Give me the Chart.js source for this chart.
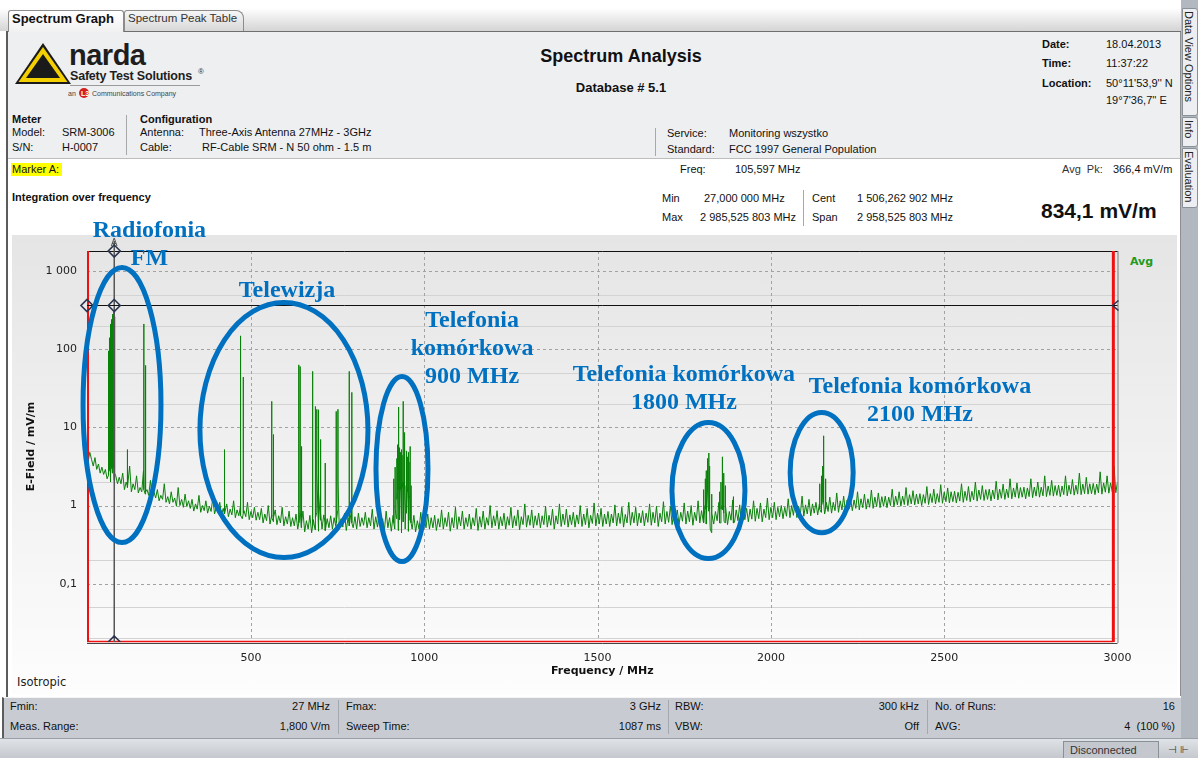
<!DOCTYPE html>
<html>
<head>
<meta charset="utf-8">
<script src="https://cdn.jsdelivr.net/npm/chart.js@4.4.1/dist/chart.umd.min.js"></script>
<style>
html,body{margin:0;padding:0;}
body{width:1198px;height:758px;position:relative;overflow:hidden;background:#fff;
  font-family:"Liberation Sans",Arial,sans-serif;font-size:11px;color:#111;}
.t{position:absolute;white-space:nowrap;line-height:1;}
.b{font-weight:bold;}
.r{text-align:right;}
.box{position:absolute;}
</style>
</head>
<body>

<!-- tab strip -->
<div class="box" style="left:0;top:8px;width:1181px;height:23px;background:linear-gradient(#ffffff,#d4d4d4);"></div>
<div class="box" style="left:8px;top:31px;width:1173px;height:1px;background:#6f6f6f;"></div>
<div class="box" style="left:8px;top:10px;width:114px;height:22px;background:linear-gradient(#ffffff,#f0f0f0);border:1px solid #8c8c8c;border-bottom:none;border-radius:3px 3px 0 0;"></div>
<div class="box" style="left:124px;top:10px;width:118px;height:20px;background:linear-gradient(#f6f6f6,#d8d8d8);border:1px solid #8c8c8c;border-bottom:none;border-radius:3px 8px 0 0;"></div>
<div class="t b" style="left:12px;top:12px;font-size:13px;">Spectrum Graph</div>
<div class="t" style="left:128px;top:13px;font-size:11.5px;color:#333;">Spectrum Peak Table</div>

<!-- window frame -->
<div class="box" style="left:6px;top:31px;width:2px;height:709px;background:#5c5c5c;"></div>

<!-- header panel -->
<div class="box" style="left:8px;top:32px;width:1172px;height:126px;background:#eeeff1;border-right:1px solid #8e8e8e;"></div>

<!-- logo -->
<svg class="box" style="left:14px;top:42px;" width="58" height="44" viewBox="0 0 58 44">
  <polygon points="1,42 29,1 57,42" fill="#1a1a1a"/>
  <polygon points="4.5,40 29,5 53.5,40" fill="#f5d000"/>
  <polygon points="12,36 29,12 46,36" fill="#1a1a1a"/>
</svg>
<div class="t b" style="left:69px;top:41px;font-size:29px;color:#1e1e1e;letter-spacing:-0.5px;">narda</div>
<div class="t b" style="left:70px;top:70px;font-size:12.5px;color:#1e1e1e;letter-spacing:-0.2px;">Safety Test Solutions</div>
<div class="t" style="left:198px;top:68px;font-size:8px;color:#333;">®</div>
<div class="box" style="left:70px;top:85px;width:130px;height:1px;background:#9a9a9a;"></div>
<div class="t" style="left:68px;top:90px;font-size:7px;color:#444;">an</div>
<div class="box" style="left:79px;top:88px;width:10px;height:10px;border-radius:5px;background:#d41f1f;"></div>
<div class="t b" style="left:81px;top:90px;font-size:7px;color:#fff;">L3</div>
<div class="t" style="left:92px;top:90px;font-size:7px;color:#444;">Communications Company</div>

<div class="t b" style="left:621px;top:47px;font-size:18px;transform:translateX(-50%);">Spectrum Analysis</div>
<div class="t b" style="left:621px;top:81px;font-size:13px;transform:translateX(-50%);">Database # 5.1</div>

<div class="t b" style="left:1042px;top:39px;">Date:</div>
<div class="t b" style="left:1042px;top:58px;">Time:</div>
<div class="t b" style="left:1042px;top:78px;">Location:</div>
<div class="t" style="left:1106px;top:39px;">18.04.2013</div>
<div class="t" style="left:1106px;top:58px;">11:37:22</div>
<div class="t" style="left:1106px;top:78px;">50°11'53,9'' N</div>
<div class="t" style="left:1106px;top:95px;">19°7'36,7'' E</div>

<div class="t b" style="left:12px;top:114px;">Meter</div>
<div class="t" style="left:12px;top:127px;">Model:</div>
<div class="t" style="left:62px;top:127px;">SRM-3006</div>
<div class="t" style="left:12px;top:142px;">S/N:</div>
<div class="t" style="left:62px;top:142px;">H-0007</div>
<div class="box" style="left:126px;top:115px;width:1px;height:40px;background:#a8a8a8;"></div>
<div class="t b" style="left:140px;top:114px;">Configuration</div>
<div class="t" style="left:140px;top:127px;">Antenna:</div>
<div class="t" style="left:199px;top:127px;">Three-Axis Antenna 27MHz - 3GHz</div>
<div class="t" style="left:140px;top:142px;">Cable:</div>
<div class="t" style="left:202px;top:142px;">RF-Cable SRM - N 50 ohm - 1.5 m</div>
<div class="box" style="left:655px;top:128px;width:1px;height:28px;background:#a8a8a8;"></div>
<div class="t" style="left:667px;top:128px;">Service:</div>
<div class="t" style="left:729px;top:128px;">Monitoring wszystko</div>
<div class="t" style="left:667px;top:144px;">Standard:</div>
<div class="t" style="left:729px;top:144px;">FCC 1997 General Population</div>

<!-- marker row -->
<div class="box" style="left:8px;top:158px;width:1172px;height:26px;background:#fff;border-top:1px solid #bdbdbd;border-bottom:1px solid #d6d6d6;border-right:1px solid #8e8e8e;"></div>
<div class="box" style="left:11px;top:163px;width:51px;height:13px;background:#ffff00;"></div>
<div class="t" style="left:12px;top:164px;">Marker A:</div>
<div class="t" style="left:680px;top:164px;">Freq:</div>
<div class="t" style="left:735px;top:164px;">105,597 MHz</div>
<div class="t" style="left:1062px;top:164px;color:#333;">Avg&nbsp; Pk:</div>
<div class="t" style="left:1113px;top:164px;">366,4 mV/m</div>

<!-- integration row -->
<div class="box" style="left:8px;top:185px;width:1172px;height:48px;background:#fff;border-right:1px solid #8e8e8e;"></div>
<div class="t b" style="left:12px;top:192px;">Integration over frequency</div>
<div class="t" style="left:662px;top:193px;">Min</div>
<div class="t" style="left:704px;top:193px;">27,000 000 MHz</div>
<div class="t" style="left:662px;top:212px;">Max</div>
<div class="t" style="left:700px;top:212px;">2 985,525 803 MHz</div>
<div class="box" style="left:803px;top:190px;width:1px;height:36px;background:#a8a8a8;"></div>
<div class="t" style="left:812px;top:193px;">Cent</div>
<div class="t" style="left:857px;top:193px;">1 506,262 902 MHz</div>
<div class="t" style="left:812px;top:212px;">Span</div>
<div class="t" style="left:857px;top:212px;">2 958,525 803 MHz</div>
<div class="t b" style="left:1041px;top:200px;font-size:21px;">834,1 mV/m</div>

<!-- chart panel -->
<div class="box" style="left:8px;top:233px;width:1172px;height:463px;background:#fff;border-right:1px solid #8e8e8e;"></div>
<div class="box" style="left:12px;top:235px;width:1165px;height:459px;background:linear-gradient(#e5e5e5,#fdfdfd);"></div>
<div class="t" style="left:17px;top:677px;font-family:'DejaVu Sans';font-size:11.5px;color:#222;">Isotropic</div>
<div class="t b" style="left:1130px;top:256px;font-family:'DejaVu Sans';font-size:11px;color:#1f9a1f;">Avg</div>

<canvas id="spectrum" class="box" style="left:0;top:200px;" width="1180" height="495"></canvas>

<!-- bottom info bar -->
<div class="box" style="left:2px;top:697px;width:1178px;height:40px;background:#c8ccd2;border-top:1px solid #f4f4f4;border-left:2px solid #5c5c5c;"></div>
<div class="t" style="left:10px;top:701px;">Fmin:</div>
<div class="t r" style="left:230px;width:100px;top:701px;">27 MHz</div>
<div class="t" style="left:10px;top:721px;">Meas. Range:</div>
<div class="t r" style="left:230px;width:100px;top:721px;">1,800 V/m</div>
<div class="box" style="left:338px;top:700px;width:1px;height:34px;background:#a4a9b0;"></div>
<div class="t" style="left:346px;top:701px;">Fmax:</div>
<div class="t r" style="left:561px;width:100px;top:701px;">3 GHz</div>
<div class="t" style="left:346px;top:721px;">Sweep Time:</div>
<div class="t r" style="left:561px;width:100px;top:721px;">1087 ms</div>
<div class="box" style="left:668px;top:700px;width:1px;height:34px;background:#a4a9b0;"></div>
<div class="t" style="left:675px;top:701px;">RBW:</div>
<div class="t r" style="left:819px;width:100px;top:701px;">300 kHz</div>
<div class="t" style="left:675px;top:721px;">VBW:</div>
<div class="t r" style="left:819px;width:100px;top:721px;">Off</div>
<div class="box" style="left:927px;top:700px;width:1px;height:34px;background:#a4a9b0;"></div>
<div class="t" style="left:935px;top:701px;">No. of Runs:</div>
<div class="t r" style="left:1075px;width:100px;top:701px;">16</div>
<div class="t" style="left:935px;top:721px;">AVG:</div>
<div class="t r" style="left:1075px;width:100px;top:721px;">4&nbsp; (100 %)</div>

<!-- status bar -->
<div class="box" style="left:0;top:738px;width:1198px;height:20px;background:linear-gradient(#dfe2e6,#c3c7cd);border-top:1px solid #9aa0a8;"></div>
<div class="box" style="left:1063px;top:741px;width:94px;height:17px;background:#c4c8ce;border:1px solid #8a9098;"></div>
<div class="t" style="left:1070px;top:745px;font-size:11px;color:#333;">Disconnected</div>
<div class="t" style="left:1168px;top:745px;font-size:10px;color:#333;">⊣ ⊩</div>

<!-- side tabs -->
<div class="box" style="left:1181px;top:0;width:17px;height:738px;background:#b2b8c0;"></div>
<div class="box" style="left:1182px;top:8px;width:14px;height:106px;background:#eceef1;border:1px solid #8a9098;border-radius:0 3px 3px 0;"></div>
<div class="box" style="left:1182px;top:117px;width:14px;height:28px;background:#eceef1;border:1px solid #8a9098;border-radius:0 3px 3px 0;"></div>
<div class="box" style="left:1182px;top:148px;width:14px;height:58px;background:#eceef1;border:1px solid #8a9098;border-radius:0 3px 3px 0;"></div>
<div class="t" style="left:1183px;top:11px;font-size:11px;writing-mode:vertical-rl;color:#222;">Data View Options</div>
<div class="t" style="left:1183px;top:120px;font-size:11px;writing-mode:vertical-rl;color:#222;">Info</div>
<div class="t" style="left:1183px;top:151px;font-size:11px;writing-mode:vertical-rl;color:#222;">Evaluation</div>

<script>
// Axis settings
const freqMinMHz = 27;
const freqMaxMHz = 3000;
const levelMin = 0.018;
const levelMax = 1800;
const xTickValues = [500, 1000, 1500, 2000, 2500, 3000];
const xGridValues = [500, 1000, 1500, 2000, 2500];
const yTickValues = [0.1, 1, 10, 100, 1000];
const yTickLabels = ['0,1', '1', '10', '100', '1 000'];
const yMinorValues = [0.02, 0.05, 0.2, 0.5, 2, 5, 20, 50, 200, 500];

// Sweep limits and marker A
const sweepStartMHz = 27;
const sweepStopMHz = 2988;
const markerFreqMHz = 105.597;
const markerLevel = 366.4;

// Averaged noise floor (mV/m): one reading every 5 MHz from 25 MHz, 20 readings (100 MHz) per row
const floorStartMHz = 25;
const floorStepMHz = 5;
const floorLevels = [
  4.5, 3.6, 4.8, 3.9, 3.2, 4.1, 2.9, 3.4, 2.6, 3.1, 2.5, 2.9, 2.2, 2.7, 2.0, 2.6, 2.1, 2.4, 1.9, 2.3,
  1.9, 2.6, 1.6, 2.0, 1.7, 3.2, 1.5, 1.9, 1.6, 2.4, 1.45, 1.7, 1.5, 2.8, 1.4, 1.6, 1.35, 2.1, 1.3, 1.5,
  1.25, 1.6, 1.15, 1.35, 1.2, 1.9, 1.1, 1.3, 1.05, 1.5, 1.1, 1.25, 0.98, 1.7, 1.0, 1.2, 0.95, 1.4, 0.97, 1.15,
  0.92, 1.2, 0.85, 1.05, 0.9, 1.35, 0.82, 1.0, 0.86, 1.15, 0.8, 0.98, 0.84, 1.25, 0.78, 0.95, 0.82, 1.1, 0.76, 0.92,
  0.78, 1.05, 0.72, 0.9, 0.76, 1.15, 0.7, 0.88, 0.74, 1.0, 0.68, 0.86, 0.72, 1.1, 0.66, 0.84, 0.7, 0.95, 0.65, 0.82,
  0.66, 0.92, 0.6, 0.78, 0.64, 1.0, 0.58, 0.76, 0.62, 0.88, 0.57, 0.74, 0.6, 0.95, 0.55, 0.72, 0.58, 0.85, 0.54, 0.7,
  0.55, 0.78, 0.5, 0.68, 0.52, 0.85, 0.46, 0.64, 0.5, 0.75, 0.45, 0.66, 0.49, 0.82, 0.47, 0.65, 0.5, 0.76, 0.48, 0.68,
  0.52, 0.74, 0.5, 0.7, 0.54, 0.85, 0.5, 0.68, 0.53, 0.8, 0.48, 0.7, 0.55, 0.9, 0.52, 0.72, 0.5, 0.8, 0.54, 0.7,
  0.56, 0.82, 0.52, 0.7, 0.55, 0.9, 0.5, 0.72, 0.53, 0.8, 0.5, 0.68, 0.48, 0.85, 0.52, 0.7, 0.47, 0.75, 0.5, 0.68,
  0.48, 0.66, 0.45, 0.62, 0.5, 0.8, 0.47, 0.65, 0.5, 0.75, 0.46, 0.64, 0.5, 0.82, 0.48, 0.68, 0.52, 0.78, 0.5, 0.7,
  0.52, 0.75, 0.48, 0.68, 0.53, 0.88, 0.5, 0.7, 0.54, 0.82, 0.47, 0.7, 0.52, 0.95, 0.5, 0.72, 0.55, 0.85, 0.5, 0.7,
  0.54, 0.78, 0.5, 0.7, 0.55, 0.92, 0.48, 0.72, 0.53, 0.85, 0.5, 0.7, 0.56, 1.0, 0.52, 0.74, 0.55, 0.86, 0.5, 0.72,
  0.55, 0.8, 0.5, 0.72, 0.56, 0.95, 0.52, 0.74, 0.55, 0.88, 0.49, 0.72, 0.57, 1.05, 0.53, 0.75, 0.56, 0.88, 0.52, 0.74,
  0.56, 0.8, 0.52, 0.74, 0.57, 0.98, 0.53, 0.75, 0.56, 0.9, 0.5, 0.74, 0.58, 1.05, 0.54, 0.78, 0.57, 0.9, 0.53, 0.76,
  0.57, 0.82, 0.53, 0.76, 0.58, 1.0, 0.54, 0.78, 0.57, 0.92, 0.52, 0.75, 0.59, 1.08, 0.55, 0.8, 0.58, 0.92, 0.54, 0.78,
  0.58, 0.84, 0.54, 0.78, 0.6, 1.02, 0.55, 0.8, 0.59, 0.95, 0.53, 0.77, 0.6, 1.1, 0.56, 0.82, 0.6, 0.95, 0.55, 0.8,
  0.6, 0.86, 0.55, 0.8, 0.61, 1.05, 0.56, 0.82, 0.6, 0.98, 0.54, 0.8, 0.62, 1.12, 0.58, 0.84, 0.61, 0.98, 0.57, 0.82,
  0.62, 0.88, 0.57, 0.82, 0.63, 1.08, 0.58, 0.85, 0.62, 1.0, 0.56, 0.82, 0.64, 1.15, 0.6, 0.86, 0.62, 1.0, 0.58, 0.85,
  0.5, 0.8, 0.58, 0.84, 0.64, 1.1, 0.6, 0.88, 0.63, 1.02, 0.57, 0.84, 0.65, 1.18, 0.61, 0.88, 0.64, 1.02, 0.6, 0.88,
  0.66, 0.92, 0.62, 0.9, 0.67, 1.15, 0.63, 0.92, 0.68, 1.08, 0.62, 0.9, 0.7, 1.25, 0.66, 0.95, 0.7, 1.1, 0.66, 0.95,
  0.72, 1.0, 0.68, 0.95, 0.73, 1.22, 0.7, 1.0, 0.75, 1.15, 0.7, 0.98, 0.77, 1.32, 0.73, 1.02, 0.78, 1.2, 0.74, 1.05,
  0.8, 1.1, 0.76, 1.05, 0.82, 1.35, 0.78, 1.1, 0.84, 1.28, 0.8, 1.1, 0.86, 1.45, 0.82, 1.15, 0.88, 1.32, 0.84, 1.18,
  0.9, 1.22, 0.86, 1.18, 0.92, 1.5, 0.88, 1.22, 0.94, 1.4, 0.9, 1.22, 0.95, 1.58, 0.92, 1.28, 0.97, 1.45, 0.94, 1.3,
  0.98, 1.32, 0.94, 1.28, 1.0, 1.62, 0.96, 1.32, 1.02, 1.5, 0.98, 1.32, 1.03, 1.7, 1.0, 1.38, 1.05, 1.55, 1.02, 1.4,
  1.05, 1.42, 1.0, 1.38, 1.07, 1.75, 1.03, 1.42, 1.09, 1.62, 1.05, 1.42, 1.1, 1.85, 1.07, 1.48, 1.12, 1.68, 1.08, 1.5,
  1.12, 1.52, 1.08, 1.48, 1.14, 1.9, 1.1, 1.52, 1.16, 1.75, 1.12, 1.52, 1.18, 2.0, 1.14, 1.58, 1.2, 1.8, 1.16, 1.6,
  1.2, 1.62, 1.15, 1.58, 1.22, 2.05, 1.18, 1.62, 1.24, 1.88, 1.2, 1.62, 1.26, 2.2, 1.22, 1.68, 1.28, 1.95, 1.24, 1.7,
  1.28, 1.72, 1.22, 1.68, 1.3, 2.2, 1.26, 1.72, 1.32, 2.0, 1.28, 1.72, 1.33, 2.4, 1.3, 1.78, 1.35, 2.1, 1.32, 1.8,
  1.35, 1.82, 1.3, 1.78, 1.38, 2.4, 1.33, 1.82, 1.4, 2.15, 1.36, 1.82, 1.4, 2.6, 1.38, 1.88, 1.42, 2.3, 1.4, 1.9,
  1.42, 1.92, 1.38, 1.88, 1.45, 2.7, 1.4, 1.95, 1.48, 2.4, 1.44, 1.95, 1.5, 3.2, 1.46, 2.0, 1.5, 2.5, 1.48, 2.0
];

// Carriers: [frequency MHz, level at foot mV/m, peak level mV/m]
const fmPeaks = [
  [88, 2.4, 30], [89.5, 2.6, 95], [91, 2.8, 140], [92.5, 3.0, 70], [94, 3.0, 210],
  [95.5, 3.2, 170], [97, 3.0, 240], [98.5, 3.4, 120], [100, 3.2, 280], [101.5, 3.0, 200],
  [103, 3.4, 300], [104.5, 3.0, 230], [106, 2.8, 260], [107.5, 2.6, 90]
];
const dabPeaks = [
  [143, 1.8, 5.2], [191, 1.6, 210], [196, 1.5, 62]
];
const tvPeaks = [
  [423, 0.8, 5.2], [470, 0.75, 148], [478, 0.8, 44], [560, 0.7, 21.5], [565, 0.7, 8.1],
  [638, 0.6, 63], [642, 0.9, 60], [646, 0.6, 5.7], [678, 0.55, 52], [686, 0.7, 18.5],
  [690, 2.5, 17], [695, 1.5, 16.8], [701, 0.8, 7], [714, 0.6, 3.5], [746, 0.6, 16],
  [751, 2.0, 17], [783, 0.6, 52], [791, 0.6, 28]
];
const gsm900Peaks = [
  [912, 0.6, 2.2], [916, 0.9, 3.1], [921, 1.2, 4.0], [923, 1.5, 6.0], [926, 1.6, 18.2],
  [928, 1.8, 5.5], [931, 1.6, 4.8], [934, 1.9, 5.2], [936, 1.7, 4.4], [939, 2.0, 21.5],
  [942, 2.0, 8.6], [944, 1.6, 4.5], [948, 1.8, 5.0], [951, 1.5, 4.2], [954, 1.7, 4.8],
  [956, 1.4, 3.6], [959, 1.2, 5.7], [962, 0.6, 1.8]
];
const dcs1800Peaks = [
  [1806, 0.6, 1.6], [1811, 0.9, 2.2], [1813, 1.2, 2.8], [1816, 1.5, 3.6], [1818, 1.6, 4.0],
  [1821, 1.4, 4.7], [1822, 1.2, 3.2], [1824, 0.9, 2.3], [1829, 0.45, 1.4], [1852, 0.6, 1.5],
  [1856, 0.9, 2.0], [1859, 1.0, 3.0], [1861, 1.1, 4.2], [1864, 0.8, 2.6], [1868, 0.6, 1.8],
  [1892, 0.6, 1.3]
];
const umts2100Peaks = [
  [2141, 0.9, 1.9], [2146, 1.0, 2.4], [2149, 1.1, 3.2], [2151, 1.2, 7.8], [2153, 1.1, 3.0],
  [2158, 0.9, 2.2]
];

// Band annotations (data units)
const bandEllipses = [
  { fLo: 15.6, fHi: 240.4, vLo: 0.336, vHi: 1110 },
  { fLo: 352.8, fHi: 837.6, vLo: 0.216, vHi: 396 },
  { fLo: 860.7, fHi: 1010.7, vLo: 0.192, vHi: 44.7 },
  { fLo: 1714.6, fHi: 1925.2, vLo: 0.21, vHi: 11.5 },
  { fLo: 2055.6, fHi: 2237.4, vLo: 0.45, vHi: 15.5 }
];
const bandLabels = [
  { lines: ['Radiofonia', 'FM'], freq: 207, level: 3300 },
  { lines: ['Telewizja'], freq: 604, level: 564 },
  { lines: ['Telefonia', 'komórkowa', '900 MHz'], freq: 1138, level: 233 },
  { lines: ['Telefonia komórkowa', '1800 MHz'], freq: 1749, level: 47.5 },
  { lines: ['Telefonia komórkowa', '2100 MHz'], freq: 2430, level: 33.3 }
];

// Build the trace: floor readings plus every carrier as a vertical spike
const trace = floorLevels.map((v, i) => ({ x: floorStartMHz + i * floorStepMHz, y: v }));
[fmPeaks, dabPeaks, tvPeaks, gsm900Peaks, dcs1800Peaks, umts2100Peaks].forEach(list => {
  list.forEach(([f, foot, top]) => {
    trace.push({ x: f, y: foot }, { x: f, y: top }, { x: f, y: foot });
  });
});
trace.sort((a, b) => a.x - b.x);

function diamond(ctx, x, y, r) {
  ctx.beginPath();
  ctx.moveTo(x, y - r); ctx.lineTo(x + r, y); ctx.lineTo(x, y + r); ctx.lineTo(x - r, y);
  ctx.closePath();
  ctx.stroke();
}

const decor = {
  id: 'decor',
  beforeDatasetsDraw(chart) {
    const { ctx, chartArea: a, scales: { x, y } } = chart;
    ctx.save();
    ctx.lineWidth = 1;
    ctx.strokeStyle = '#d3d3d3';
    yMinorValues.forEach(v => {
      const p = Math.round(y.getPixelForValue(v)) + 0.5;
      ctx.beginPath(); ctx.moveTo(a.left, p); ctx.lineTo(a.right, p); ctx.stroke();
    });
    ctx.setLineDash([3, 3]);
    ctx.strokeStyle = '#a2a2a2';
    yTickValues.forEach(v => {
      const p = Math.round(y.getPixelForValue(v)) + 0.5;
      ctx.beginPath(); ctx.moveTo(a.left, p); ctx.lineTo(a.right, p); ctx.stroke();
    });
    xGridValues.forEach(v => {
      const p = Math.round(x.getPixelForValue(v)) + 0.5;
      ctx.beginPath(); ctx.moveTo(p, a.top); ctx.lineTo(p, a.bottom); ctx.stroke();
    });
    ctx.restore();
  },
  afterDatasetsDraw(chart) {
    const { ctx, chartArea: a, scales: { x, y } } = chart;
    ctx.save();
    // frame
    ctx.strokeStyle = '#777';
    ctx.lineWidth = 1;
    ctx.beginPath(); ctx.moveTo(a.right + 0.5, a.top); ctx.lineTo(a.right + 0.5, a.bottom + 1); ctx.stroke();
    ctx.strokeStyle = '#444';
    ctx.beginPath(); ctx.moveTo(a.left, a.bottom + 1.5); ctx.lineTo(a.right, a.bottom + 1.5); ctx.stroke();
    ctx.strokeStyle = '#111';
    ctx.beginPath(); ctx.moveTo(a.left, a.top + 0.5); ctx.lineTo(a.right, a.top + 0.5); ctx.stroke();
    // sweep limits
    const xs = x.getPixelForValue(sweepStartMHz);
    const xe = x.getPixelForValue(sweepStopMHz);
    ctx.strokeStyle = '#ee1111';
    ctx.lineWidth = 2;
    ctx.beginPath(); ctx.moveTo(xs + 1, a.top); ctx.lineTo(xs + 1, a.bottom); ctx.stroke();
    ctx.lineWidth = 3;
    ctx.beginPath(); ctx.moveTo(xe, a.top); ctx.lineTo(xe, a.bottom); ctx.stroke();
    ctx.lineWidth = 1.5;
    ctx.beginPath(); ctx.moveTo(xs, a.bottom - 0.5); ctx.lineTo(xe, a.bottom - 0.5); ctx.stroke();
    // marker A
    const mx = x.getPixelForValue(markerFreqMHz);
    const my = Math.round(y.getPixelForValue(markerLevel)) + 0.5;
    ctx.strokeStyle = '#555';
    ctx.lineWidth = 1.5;
    ctx.beginPath(); ctx.moveTo(mx, a.top - 10); ctx.lineTo(mx, a.bottom); ctx.stroke();
    ctx.strokeStyle = '#111';
    ctx.lineWidth = 1;
    ctx.beginPath(); ctx.moveTo(a.left, my); ctx.lineTo(a.right, my); ctx.stroke();
    ctx.strokeStyle = '#2b3550';
    ctx.lineWidth = 1.6;
    diamond(ctx, mx, a.top, 6);
    diamond(ctx, mx, my, 6);
    diamond(ctx, a.left, my, 6);
    ctx.save();
    ctx.beginPath(); ctx.rect(a.left, a.top - 20, a.right - a.left, a.bottom - a.top + 20); ctx.clip();
    diamond(ctx, mx, a.bottom, 6);
    ctx.restore();
    ctx.beginPath(); ctx.moveTo(a.right + 1, my - 5); ctx.lineTo(a.right - 5, my); ctx.lineTo(a.right + 1, my + 5); ctx.stroke();
    ctx.fillStyle = '#555';
    ctx.font = '10px "DejaVu Sans"';
    ctx.textAlign = 'center';
    ctx.textBaseline = 'middle';
    ctx.fillText('A', mx, a.top - 8);
    ctx.restore();
  },
  afterDraw(chart) {
    const { ctx, scales: { x, y } } = chart;
    ctx.save();
    ctx.strokeStyle = '#0070c0';
    ctx.lineWidth = 5;
    bandEllipses.forEach(e => {
      const x1 = x.getPixelForValue(e.fLo), x2 = x.getPixelForValue(e.fHi);
      const y1 = y.getPixelForValue(e.vHi), y2 = y.getPixelForValue(e.vLo);
      ctx.beginPath();
      ctx.ellipse((x1 + x2) / 2, (y1 + y2) / 2, (x2 - x1) / 2, (y2 - y1) / 2, 0, 0, Math.PI * 2);
      ctx.stroke();
    });
    ctx.fillStyle = '#0070c0';
    ctx.font = 'bold 24px "Liberation Serif"';
    ctx.textAlign = 'center';
    ctx.textBaseline = 'middle';
    bandLabels.forEach(l => {
      const cx = x.getPixelForValue(l.freq), cy = y.getPixelForValue(l.level);
      l.lines.forEach((s, i) => ctx.fillText(s, cx, cy + i * 28));
    });
    ctx.restore();
  }
};

const tickFont = { family: '"DejaVu Sans"', size: 11 };
const titleFont = { family: '"DejaVu Sans"', size: 11, weight: 'bold' };

new Chart(document.getElementById('spectrum'), {
  type: 'line',
  data: {
    datasets: [{
      data: trace,
      borderColor: '#0a820a',
      borderWidth: 1,
      pointRadius: 0,
      tension: 0,
      fill: false
    }]
  },
  options: {
    responsive: false,
    animation: false,
    events: [],
    layout: { padding: { left: 0, top: 51, right: 62.5, bottom: 0 } },
    plugins: { legend: { display: false }, tooltip: { enabled: false } },
    scales: {
      x: {
        type: 'linear',
        min: freqMinMHz,
        max: freqMaxMHz,
        afterBuildTicks: s => { s.ticks = xTickValues.map(v => ({ value: v })); },
        afterFit: s => { s.height = 53; },
        grid: { display: false, drawTicks: false },
        border: { display: false },
        ticks: { autoSkip: false, maxRotation: 0, padding: 10, color: '#222', font: tickFont,
                 callback: v => String(v) },
        title: { display: true, text: 'Frequency / MHz', color: '#111', font: titleFont,
                 padding: { top: 0, bottom: 17 } }
      },
      y: {
        type: 'logarithmic',
        min: levelMin,
        max: levelMax,
        afterBuildTicks: s => { s.ticks = yTickValues.map(v => ({ value: v })); },
        afterFit: s => { s.width = 87; },
        grid: { display: false, drawTicks: false },
        border: { display: false },
        ticks: { autoSkip: false, padding: 10, color: '#222', font: tickFont,
                 callback: (v, i) => yTickLabels[i] },
        title: { display: true, text: 'E-Field / mV/m', color: '#111', font: titleFont,
                 padding: { top: 25, bottom: 0 } }
      }
    }
  },
  plugins: [decor]
});
</script>
</body>
</html>
